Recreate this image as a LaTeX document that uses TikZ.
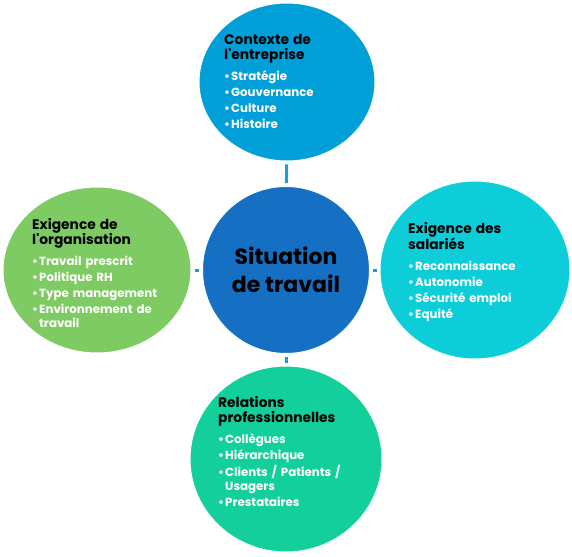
\documentclass[tikz,border=0pt]{standalone}
\usepackage{fontspec}
\setmainfont{Poppins}
\usepackage{xcolor}
\usetikzlibrary{shapes.geometric}

\definecolor{bleuctx}{HTML}{009FD8}
\definecolor{bleusit}{HTML}{1570C3}
\definecolor{vertorg}{HTML}{7DCB62}
\definecolor{cyansal}{HTML}{0DCED8}
\definecolor{vertrel}{HTML}{12CF9B}
\definecolor{bleulien}{HTML}{1C9CD8}

\newcommand{\titre}[1]{{\color{black}\fontsize{13.8}{15}\selectfont #1\par}\vspace{5pt}}
\newcommand{\puce}[1]{\par\hangindent=7pt\hangafter=1\noindent\makebox[7pt][l]{\textbullet}#1}

\begin{document}
\begin{tikzpicture}[
    x=1pt, y=-1pt,
    bulle/.style={ellipse, draw=white, line width=1pt, inner sep=0pt},
    bloc/.style={anchor=base west, text width=170pt, align=left, inner sep=0pt,
        text=white, font=\bfseries\fontsize{11.8}{14}\selectfont},
    lien/.style={draw=bleulien, line width=3pt, shorten >=3pt, shorten <=3pt}
]
    \useasboundingbox (0,0) rectangle (572,556);

    % les cinq bulles
    \node[bulle, fill=bleuctx, minimum width=176pt, minimum height=158pt] (ctx) at (287,82) {};
    \node[bulle, fill=bleusit, minimum width=167pt, minimum height=167pt] (sit) at (286,270) {};
    \node[bulle, fill=vertorg, minimum width=188pt, minimum height=166pt] (org) at (97,270) {};
    \node[bulle, fill=cyansal, minimum width=190pt, minimum height=178pt] (sal) at (475,270) {};
    \node[bulle, fill=vertrel, minimum width=192pt, minimum height=186pt] (rel) at (286,459) {};

    % liens
    \draw[lien] (ctx) -- (sit);
    \draw[lien] (org) -- (sit);
    \draw[lien] (sal) -- (sit);
    \draw[lien] (rel) -- (sit);

    % textes
    \node[font=\bfseries\fontsize{22}{28}\selectfont, align=center, text=black]
        (sitlbl) at (sit.center) {Situation\\de travail};

    \node[bloc] (ctxtxt) at (224,45) {\setlength{\parskip}{2pt}%
        \titre{Contexte de\\l\textquotesingle entreprise}%
        \puce{Stratégie}\puce{Gouvernance}\puce{Culture}\puce{Histoire}\par};

    \node[bloc] (orgtxt) at (32,229) {\setlength{\parskip}{2pt}%
        \titre{Exigence de\\l\textquotesingle organisation}%
        \puce{Travail prescrit}\puce{Politique RH}\puce{Type management}%
        \puce{Environnement de\newline travail}\par};

    \node[bloc] (saltxt) at (408,233) {\setlength{\parskip}{2pt}%
        \titre{Exigence des\\salariés}%
        \puce{Reconnaissance}\puce{Autonomie}\puce{Sécurité emploi}\puce{Equité}\par};

    \node[bloc] (reltxt) at (218,407) {\setlength{\parskip}{2pt}%
        \titre{Relations\\professionnelles}%
        \puce{Collègues}\puce{Hiérarchique}\puce{Clients / Patients /\newline Usagers}%
        \puce{Prestataires}\par};
\end{tikzpicture}
\end{document}
